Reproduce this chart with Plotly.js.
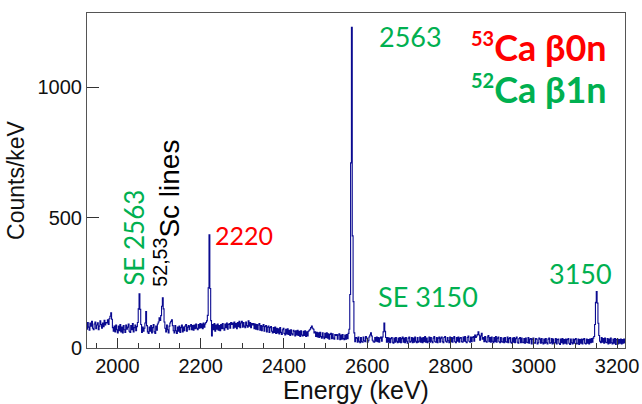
<!DOCTYPE html>
<html>
<head>
<meta charset="utf-8">
<script src="https://cdn.plot.ly/plotly-3.0.1.min.js"></script>
<style>html,body{margin:0;padding:0;background:#fff;}#chart{width:642px;height:404px;}</style>
</head>
<body>
<div id="chart"></div>
<script>
// Histogram: 2 keV bins, first bin centred at 1925 keV
const firstBinCentre = 1925;
const binWidth = 2;
const counts = [
  /*1925*/ 94, 72, 98, 80, 68, 96, 84, 102, 76, 70, 92, 100, 74, 88, 97, 70, 84, 104, 90, 76, 96, 82, 106, 88, 98,
  /*1975*/ 96, 108, 90, 112, 122, 135, 110, 78, 64, 84, 62, 88, 70, 58, 84, 66, 90, 62, 80, 58, 86, 70, 60, 88, 72,
  /*2025*/ 80, 92, 64, 60, 86, 70, 94, 62, 78, 88, 66, 82, 98, 150, 208, 148, 90, 60, 80, 64, 76, 96, 140, 86, 62,
  /*2075*/ 56, 80, 64, 86, 58, 78, 90, 62, 56, 84, 68, 92, 100, 116, 106, 124, 160, 193, 150, 100, 76, 62, 88, 70, 58,
  /*2125*/ 84, 96, 102, 108, 86, 66, 58, 86, 66, 56, 80, 64, 84, 60, 78, 88, 62, 80, 66, 84, 90, 64, 80, 86, 70,
  /*2175*/ 84, 90, 70, 86, 68, 88, 74, 92, 76, 70, 90, 76, 94, 78, 92, 74, 96, 80, 92, 98, 104, 125, 231, 434, 228,
  /*2225*/ 105, 46, 90, 70, 94, 64, 88, 72, 92, 68, 86, 66, 90, 74, 94, 76, 68, 92, 78, 96, 72, 90, 94, 76, 98,
  /*2275*/ 90, 96, 76, 100, 80, 94, 74, 98, 82, 102, 78, 96, 102, 80, 98, 84, 78, 100, 86, 80, 104, 84, 98, 78, 94,
  /*2325*/ 88, 94, 74, 92, 72, 90, 70, 88, 94, 68, 86, 66, 84, 90, 64, 82, 86, 62, 80, 84, 60, 78, 82, 64, 58,
  /*2375*/ 78, 60, 80, 56, 76, 58, 74, 54, 78, 60, 52, 70, 76, 56, 50, 72, 54, 74, 52, 68, 48, 70, 54, 50, 68,
  /*2425*/ 64, 46, 66, 50, 68, 48, 64, 44, 66, 50, 46, 64, 48, 66, 44, 62, 46, 64, 68, 72, 78, 84, 76, 72, 58,
  /*2475*/ 62, 44, 60, 42, 58, 40, 60, 44, 38, 58, 42, 36, 56, 40, 58, 38, 54, 34, 52, 56, 36, 54, 38, 34, 52,
  /*2525*/ 48, 52, 34, 50, 54, 32, 50, 34, 52, 36, 32, 50, 34, 52, 36, 56, 72, 205, 710, 1230, 430, 178, 58, 24, 40,
  /*2575*/ 38, 22, 42, 26, 20, 40, 24, 22, 42, 28, 24, 44, 38, 22, 28, 42, 50, 58, 46, 30, 24, 22, 40, 26, 42,
  /*2625*/ 24, 40, 22, 38, 42, 26, 42, 62, 96, 64, 40, 22, 40, 22, 38, 20, 36, 40, 22, 18, 38, 22, 40, 26, 20,
  /*2675*/ 38, 22, 40, 20, 36, 42, 22, 38, 20, 40, 26, 18, 38, 42, 22, 26, 40, 20, 38, 22, 42, 26, 20, 40, 22,
  /*2725*/ 26, 42, 22, 38, 20, 40, 24, 44, 22, 38, 20, 26, 42, 22, 40, 26, 20, 38, 44, 24, 22, 40, 20, 38, 42,
  /*2775*/ 22, 38, 42, 24, 20, 40, 44, 26, 22, 40, 28, 20, 42, 24, 40, 22, 38, 44, 24, 20, 40, 26, 42, 22, 38,
  /*2825*/ 40, 24, 22, 42, 26, 44, 24, 20, 40, 46, 26, 22, 42, 24, 40, 44, 26, 50, 40, 46, 52, 62, 50, 30, 46,
  /*2875*/ 56, 34, 40, 24, 44, 26, 22, 42, 48, 24, 40, 22, 42, 26, 20, 40, 24, 44, 22, 38, 42, 24, 20, 40, 24,
  /*2925*/ 22, 38, 20, 40, 24, 22, 42, 20, 36, 40, 22, 18, 38, 22, 40, 20, 36, 42, 22, 18, 36, 40, 20, 38, 22,
  /*2975*/ 20, 36, 18, 38, 22, 20, 40, 18, 34, 36, 16, 34, 38, 20, 18, 36, 34, 16, 20, 38, 34, 18, 36, 20, 16,
  /*3025*/ 34, 18, 36, 20, 16, 34, 38, 18, 20, 36, 16, 34, 18, 20, 36, 16, 32, 34, 18, 14, 34, 20, 36, 16, 32,
  /*3075*/ 18, 34, 16, 32, 36, 18, 14, 34, 20, 16, 34, 18, 32, 36, 16, 18, 34, 14, 32, 18, 34, 16, 32, 36, 18,
  /*3125*/ 16, 34, 18, 32, 16, 34, 20, 36, 22, 38, 44, 90, 175, 217, 172, 95, 48, 26, 20, 40, 22, 36, 18, 38, 22,
  /*3175*/ 20, 36, 16, 34, 18, 38, 20, 16, 34, 18, 36, 14, 32, 34, 16, 32, 18, 34, 16, 32, 18, 34, 20
];

const xTickVals = [2000, 2200, 2400, 2600, 2800, 3000, 3200];
const xTickText = ['2000', '2200', '2400', '2600', '2800', '3000', '3200'];
const yTickVals = [0, 500, 1000];
const yTickText = ['0', '500', '1000'];

const GREEN = '#00b050';
const RED = '#ff0000';

const trace = {
  type: 'scatter',
  mode: 'lines',
  x0: firstBinCentre,
  dx: binWidth,
  y: counts,
  line: {shape: 'hvh', color: '#0a0a90', width: 1.1},
  hoverinfo: 'skip'
};

const annFont = (size, color, family, weight) => ({size, color, family: family || 'Lato, sans-serif', weight: weight || 'normal'});
const ARIAL = '"Liberation Sans", Arial, sans-serif';

const layout = {
  width: 642, height: 404,
  margin: {l: 87, r: 17, t: 13, b: 56, pad: 0},
  paper_bgcolor: '#ffffff', plot_bgcolor: '#ffffff',
  showlegend: false,
  font: {family: ARIAL, color: '#111'},
  xaxis: {
    range: [1927, 3219],
    tickmode: 'array', tickvals: xTickVals, ticktext: xTickText,
    ticks: 'inside', ticklen: 10, tickcolor: '#333', tickwidth: 1,
    minor: {ticks: 'inside', ticklen: 5, tick0: 2000, dtick: 50, tickcolor: '#333', showgrid: false},
    showline: true, mirror: true, linecolor: '#555', linewidth: 1,
    showgrid: false, zeroline: false,
    tickfont: {size: 20, family: ARIAL, color: '#111'},
    title: {text: 'Energy (keV)', font: {size: 25, family: ARIAL, color: '#111'}, standoff: 10}
  },
  yaxis: {
    range: [0, 1285],
    tickmode: 'array', tickvals: yTickVals, ticktext: yTickText,
    ticks: 'inside', ticklen: 12, tickcolor: '#333', tickwidth: 1,
    showline: true, mirror: true, linecolor: '#555', linewidth: 1,
    showgrid: false, zeroline: false,
    tickfont: {size: 20, family: ARIAL, color: '#111'},
    title: {text: 'Counts/keV', font: {size: 23, family: ARIAL, color: '#111'}, standoff: 6}
  },
  annotations: [
    {x: 2703, y: 1194, xref: 'x', yref: 'y', text: '2563', showarrow: false, xanchor: 'center', yanchor: 'middle', font: annFont(27, GREEN)},
    {x: 3012, y: 1156, xref: 'x', yref: 'y', text: '<sup><span style="font-size:20px">53</span></sup>Ca β0n', showarrow: false, xanchor: 'center', yanchor: 'middle', font: annFont(36, RED, 'Lato, sans-serif', 'bold')},
    {x: 3012, y: 993, xref: 'x', yref: 'y', text: '<sup><span style="font-size:20px">52</span></sup>Ca β1n', showarrow: false, xanchor: 'center', yanchor: 'middle', font: annFont(36, GREEN, 'Lato, sans-serif', 'bold')},
    {x: 2304, y: 434, xref: 'x', yref: 'y', text: '2220', showarrow: false, xanchor: 'center', yanchor: 'middle', font: annFont(25, RED)},
    {x: 2746, y: 197, xref: 'x', yref: 'y', text: 'SE 3150', showarrow: false, xanchor: 'center', yanchor: 'middle', font: annFont(27, GREEN)},
    {x: 3113, y: 285, xref: 'x', yref: 'y', text: '3150', showarrow: false, xanchor: 'center', yanchor: 'middle', font: annFont(27, GREEN)},
    {x: 2040, y: 423, xref: 'x', yref: 'y', text: 'SE 2563', textangle: -90, showarrow: false, xanchor: 'center', yanchor: 'middle', font: annFont(26, GREEN)},
    {x: 2119, y: 519, xref: 'x', yref: 'y', text: '<sup>52,53</sup>Sc lines', textangle: -90, showarrow: false, xanchor: 'center', yanchor: 'middle', font: annFont(28, '#000', ARIAL)}
  ]
};

Plotly.newPlot('chart', [trace], layout, {displayModeBar: false, staticPlot: true});
</script>
</body>
</html>
